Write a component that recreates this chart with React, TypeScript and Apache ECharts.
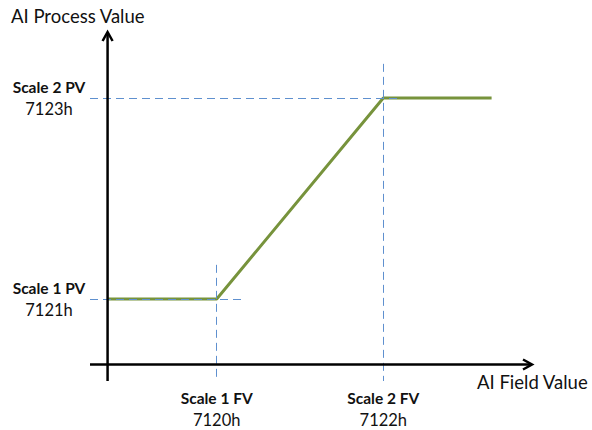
import React, { useEffect, useRef } from 'react';
import * as echarts from 'echarts';

// Field values (x) and process values (y), hex codes shown as labels
const fieldValues = [7120, 7122];
const fieldNames = ['Scale 1 FV', 'Scale 2 FV'];
const fieldLabels = ['7120h', '7122h'];
const pvValues = [7121, 7123];
const pvNames = ['Scale 1 PV', 'Scale 2 PV'];
const pvLabels = ['7121h', '7123h'];

// Scaling curve (clamped below Scale 1 and above Scale 2)
const curveX = [7118.69, 7120, 7122, 7123.3];
const curveY = [7121, 7121, 7123, 7123];

// Axis extents
const X_MIN = 7118.479;
const X_MAX = 7123.785;
const Y_MIN = 7120.184;
const Y_MAX = 7123.657;
const X_AXIS_AT_Y = 7120.348;
const Y_AXIS_AT_X = 7118.69;

// Guide-line extents
const guideHEnd = [7120.31, 7122.2];
const guideVTop = [7121.34, 7123.34];

const FONT = 'Lato';
const TEXT = '#111';

export default function App() {
  const ref = useRef<HTMLDivElement>(null);
  useEffect(() => {
    document.body.style.margin = '0';
    if (!ref.current) return;
    const chart = echarts.init(ref.current, undefined, { renderer: 'svg' });
    const rich = {
      b: { fontFamily: FONT, fontWeight: 'bold', fontSize: 15.5, color: TEXT, lineHeight: 22 },
      n: { fontFamily: FONT, fontSize: 16.5, color: TEXT, lineHeight: 22 },
    };
    const curve = curveX.map((x, i) => [x, curveY[i]]);
    const guides: any[] = [];
    pvValues.forEach((v, i) => {
      guides.push([{ coord: [X_MIN, v] }, { coord: [guideHEnd[i], v] }]);
    });
    fieldValues.forEach((v, i) => {
      guides.push([{ coord: [v, guideVTop[i]] }, { coord: [v, Y_MIN] }]);
    });
    chart.setOption({
      animation: false,
      grid: { left: 90, right: 60, top: 32, bottom: 49, outerBoundsMode: 'none' },
      xAxis: {
        type: 'value',
        min: X_MIN,
        max: X_MAX,
        axisLine: { show: false },
        axisTick: { show: false },
        splitLine: { show: false },
        axisLabel: {
          customValues: fieldValues,
          margin: 6,
          formatter: (v: number) => {
            const i = fieldValues.indexOf(v);
            return i < 0 ? '' : `{b|${fieldNames[i]}}\n{n|${fieldLabels[i]}}`;
          },
          rich,
        },
      },
      yAxis: {
        type: 'value',
        min: Y_MIN,
        max: Y_MAX,
        axisLine: { show: false },
        axisTick: { show: false },
        splitLine: { show: false },
        axisLabel: {
          customValues: pvValues,
          margin: 41,
          align: 'center',
          formatter: (v: number) => {
            const i = pvValues.indexOf(v);
            return i < 0 ? '' : `{b|${pvNames[i]}}\n{n|${pvLabels[i]}}`;
          },
          rich,
        },
      },
      series: [
        {
          type: 'line',
          data: curve,
          symbol: 'none',
          lineStyle: { color: '#77933C', width: 3 },
          z: 2,
        },
        {
          type: 'line',
          data: [],
          z: 3,
          markLine: {
            silent: true,
            symbol: 'none',
            label: { show: false },
            lineStyle: { color: '#5F90CF', width: 1, type: [8, 5] },
            data: guides,
          },
        },
      ],
    });
    const p = (x: number, y: number) => chart.convertToPixel({ gridIndex: 0 }, [x, y]) as number[];
    const xa0 = p(X_MIN, X_AXIS_AT_Y);
    const xa1 = p(X_MAX, X_AXIS_AT_Y);
    const ya0 = p(Y_AXIS_AT_X, Y_MIN);
    const ya1 = p(Y_AXIS_AT_X, Y_MAX);
    const axisStyle = { stroke: '#000', lineWidth: 2.5, fill: 'none' };
    chart.setOption({
      graphic: [
        { type: 'line', shape: { x1: xa0[0], y1: xa0[1], x2: xa1[0] - 1, y2: xa1[1] }, style: axisStyle, z: 10 },
        {
          type: 'polyline',
          shape: { points: [[xa1[0] - 9, xa1[1] - 5], [xa1[0], xa1[1]], [xa1[0] - 9, xa1[1] + 5]] },
          style: axisStyle,
          z: 10,
        },
        { type: 'line', shape: { x1: ya0[0], y1: ya0[1], x2: ya1[0], y2: ya1[1] + 1 }, style: axisStyle, z: 10 },
        {
          type: 'polyline',
          shape: { points: [[ya1[0] - 5, ya1[1] + 9], [ya1[0], ya1[1]], [ya1[0] + 5, ya1[1] + 9]] },
          style: axisStyle,
          z: 10,
        },
        {
          type: 'text',
          left: 11,
          top: 6,
          style: { text: 'AI Process Value', fontFamily: FONT, fontSize: 18.5, fill: TEXT },
        },
        {
          type: 'text',
          left: 477,
          top: 372,
          style: { text: 'AI Field Value', fontFamily: FONT, fontSize: 18.5, fill: TEXT },
        },
      ],
    });
    return () => chart.dispose();
  }, []);
  return <div ref={ref} style={{ width: 592, height: 430 }} />;
}
